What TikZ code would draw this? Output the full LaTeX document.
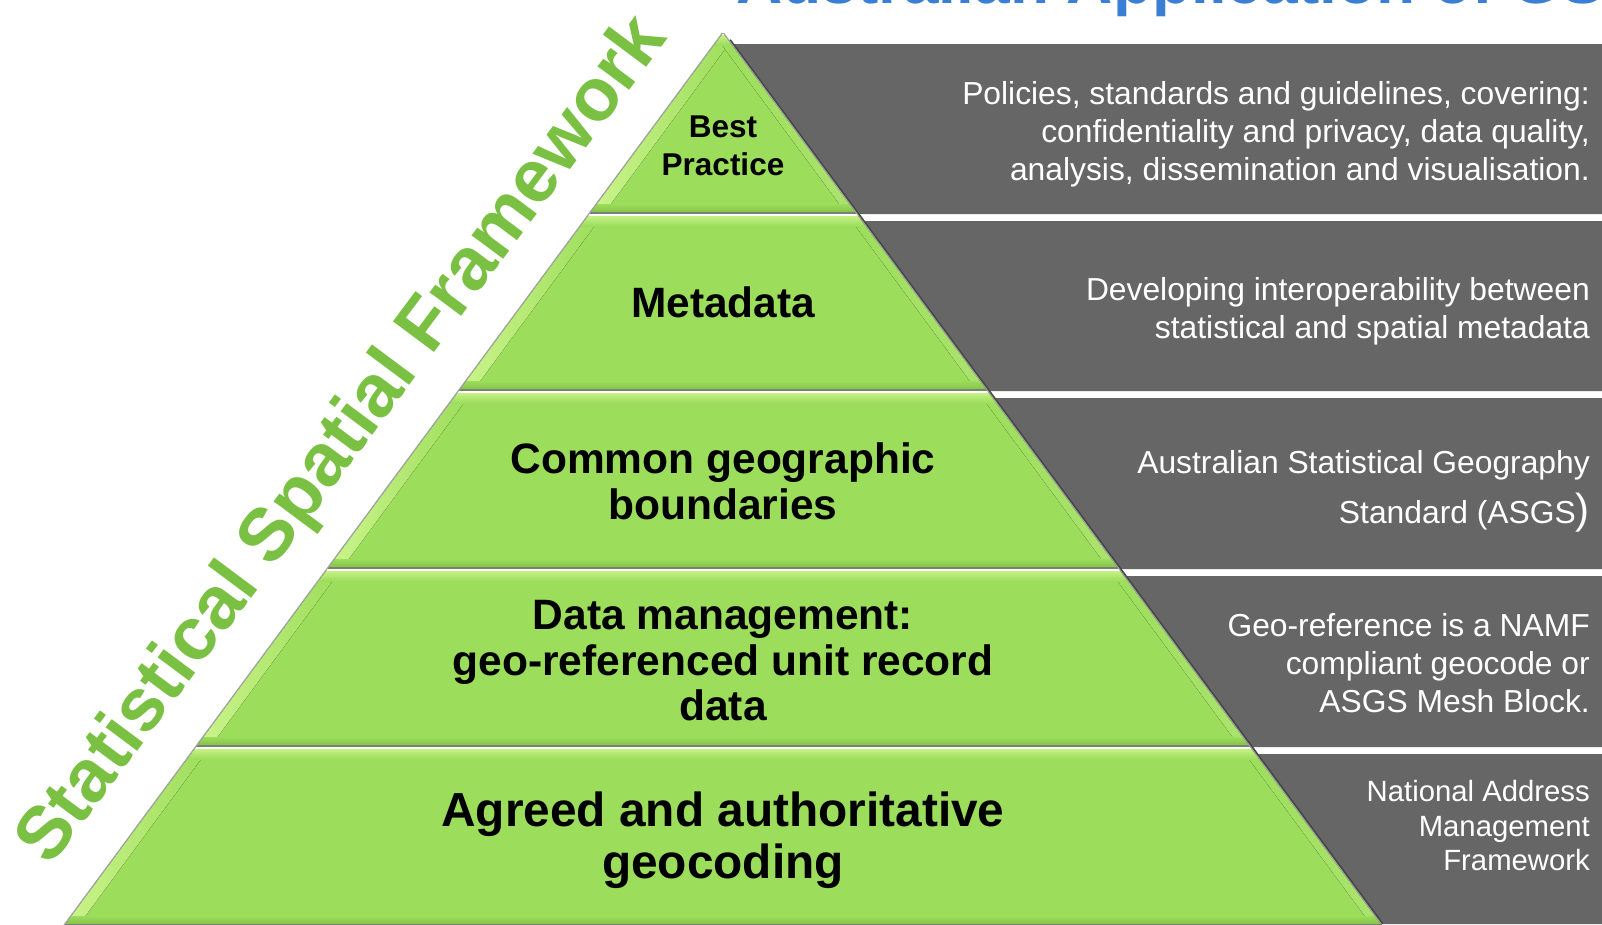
\documentclass[tikz,border=0pt]{standalone}
\usepackage{fontspec}
\setmainfont{Liberation Sans}
\definecolor{gmain}{RGB}{156,221,91}
\definecolor{glight}{RGB}{205,245,140}
\definecolor{gside}{RGB}{172,228,110}
\definecolor{gdark}{RGB}{128,188,70}
\definecolor{gtext}{RGB}{122,193,67}
\definecolor{panel}{RGB}{102,102,102}
\definecolor{titleblue}{RGB}{59,126,213}
\definecolor{sepgrey}{RGB}{120,130,112}
\definecolor{edgegrey}{RGB}{160,165,160}
\definecolor{darkedge}{RGB}{70,70,70}
\newcommand\pyrband[2]{%
  \pgfmathsetmacro\pyt{#1}%
  \pgfmathsetmacro\pyb{#2}%
  \pgfmathsetmacro\pxlt{723-0.738*(#1-33)}%
  \pgfmathsetmacro\pxrt{723+0.738*(#1-33)}%
  \pgfmathsetmacro\pxlb{723-0.738*(#2-33)}%
  \pgfmathsetmacro\pxrb{723+0.738*(#2-33)}%
  \begin{scope}
    \clip (\pxlt,\pyt) -- (\pxrt,\pyt) -- (\pxrb,\pyb) -- (\pxlb,\pyb) -- cycle;
    \fill[gmain] (0,\pyt) rectangle (1602,\pyb);
    \fill[left color=glight, right color=gmain] (\pxlt-4,\pyt) -- (\pxlt+14,\pyt) -- (\pxlb+14,\pyb) -- (\pxlb-4,\pyb) -- cycle;
    \fill[left color=gmain, right color=gside] (\pxrt-10,\pyt) -- (\pxrt+4,\pyt) -- (\pxrb+4,\pyb) -- (\pxrb-10,\pyb) -- cycle;
    \fill[top color=glight, bottom color=gmain] (0,\pyt) rectangle (1602,\pyt+12);
    \fill[top color=gmain, bottom color=gdark] (0,\pyb-10) rectangle (1602,\pyb);
    \draw[white, line width=2.5pt] (0,\pyt+1.2) -- (1602,\pyt+1.2);
    \draw[sepgrey, line width=1.6pt] (0,\pyb-0.8) -- (1602,\pyb-0.8);
  \end{scope}
  \draw[edgegrey, line width=1.2pt] (\pxlt-0.6,\pyt) -- (\pxlb-0.6,\pyb);
}
\tikzset{
  rtext/.style={text=white, align=right, inner sep=0pt, font=\fontsize{31.8}{37.8}\selectfont},
  plabel/.style={text=black, align=center, inner sep=0pt},
}
\begin{document}
\begin{tikzpicture}[x=1pt, y=-1pt]
\useasboundingbox (0,0) rectangle (1602,924);
\clip (0,0) rectangle (1602,924);
\fill[white] (0,0) rectangle (1602,924);

% title (cut off at top)
\node[anchor=base west, inner sep=0pt, text=titleblue, font=\bfseries\fontsize{64}{70}\selectfont] (title) at (736,3) {Australian Application of GSGF};

% grey panels
\foreach \a/\b in {44/214, 221/391, 398/569, 576/747, 754/924}
  \fill[panel] ({723+0.738*(\a-33)-3},\a) -- (1602,\a) -- (1602,\b) -- ({723+0.738*(\b-33)-3},\b) -- cycle;

% right dark edge of pyramid
\draw[darkedge, line width=2.5pt] ({723+0.738*7+1.6},40) -- (1382.4,924);

% pyramid bands
\pyrband{33}{214}
\pyrband{214}{391}
\pyrband{391}{569}
\pyrband{569}{747}
\pyrband{747}{926}

\draw[edgegrey, line width=1pt] (723.6,33) -- (1381.2,924);

% pyramid labels
\node[plabel, font=\bfseries\fontsize{31.5}{38}\selectfont] (l1) at (723,146) {Best\\Practice};
\node[plabel, font=\bfseries\fontsize{42.4}{46}\selectfont] (l2) at (723,302) {Metadata};
\node[plabel, font=\bfseries\fontsize{42.5}{46}\selectfont] (l3) at (723,481) {Common geographic\\boundaries};
\node[plabel, font=\bfseries\fontsize{42.5}{45.5}\selectfont] (l4) at (723,661) {Data management:\\geo-referenced unit record\\data};
\node[plabel, font=\bfseries\fontsize{47.8}{52}\selectfont] (l5) at (723,840) {Agreed and authoritative\\geocoding};

% right-hand descriptions
\node[rtext, anchor=east] (r1) at (1590,134) {Policies, standards and guidelines, covering:\\confidentiality and privacy, data quality,\\analysis, dissemination and visualisation.};
\node[rtext, anchor=east] (r2) at (1590,311) {Developing interoperability between\\statistical and spatial metadata};
\node[rtext, anchor=base east] (r3a) at (1590,473) {Australian Statistical Geography};
\node[rtext, anchor=base east] (r3b) at (1590,523) {Standard (ASGS{\fontsize{42}{42}\selectfont)}};
\node[rtext, anchor=east] (r4) at (1590,663) {Geo-reference is a NAMF\\compliant geocode or\\ASGS Mesh Block.};
\node[rtext, anchor=east, font=\fontsize{29.3}{34.5}\selectfont] (r5) at (1590,826) {National Address\\Management\\Framework};

% side label
\node[anchor=base west, inner sep=0pt, rotate=53.3, text=gtext, font=\bfseries\fontsize{74.5}{80}\selectfont] (side) at (50,868) {Statistical Spatial Framework};
\end{tikzpicture}
\end{document}
